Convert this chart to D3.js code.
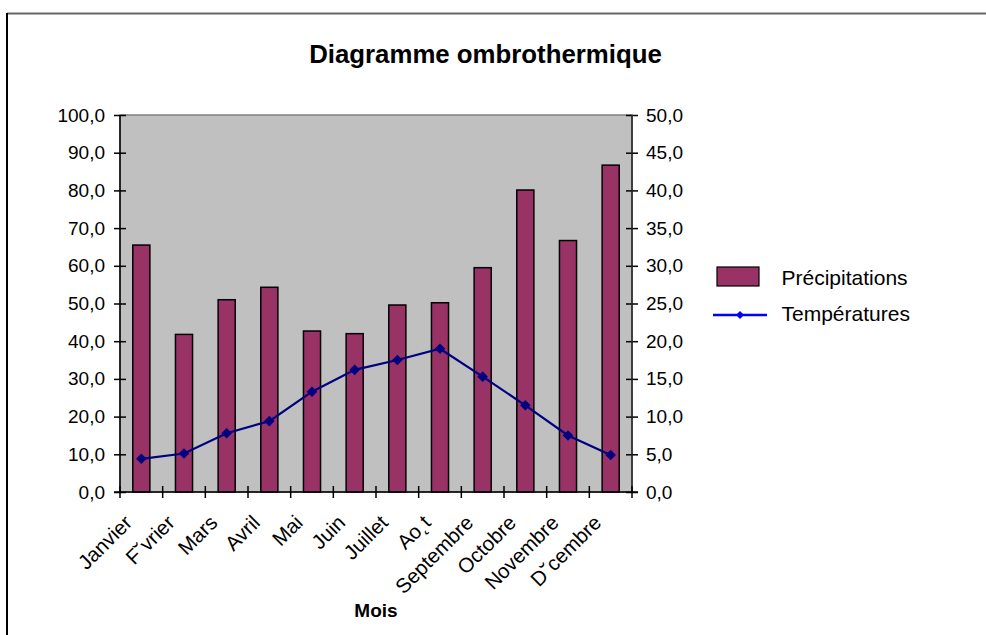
<!DOCTYPE html>
<html>
<head>
<meta charset="utf-8">
<script src="https://cdn.jsdelivr.net/npm/d3@7"></script>
<style>
  body { margin: 0; background: #fff; }
  text { font-family: Arial, "Liberation Sans", sans-serif; fill: #000; }
</style>
</head>
<body>
<svg id="chart" width="986" height="635"></svg>
<script>
// data
const months = ["Janvier", "F\u02d8vrier", "Mars", "Avril", "Mai", "Juin", "Juillet", "Ao\u02db\u0074", "Septembre", "Octobre", "Novembre", "D\u02d8cembre"];
const precipitations = [65.5, 41.8, 51.0, 54.3, 42.7, 42.0, 49.6, 50.2, 59.5, 80.1, 66.7, 86.7];
const temperatures = [4.4, 5.1, 7.8, 9.4, 13.3, 16.2, 17.5, 19.0, 15.3, 11.5, 7.5, 4.9];
const leftTicks = d3.range(0, 101, 10);
const rightTicks = d3.range(0, 51, 5);

const svg = d3.select("#chart");
const plot = { left: 120, right: 632, top: 115, bottom: 492 };
const fmt = v => v.toFixed(1).replace(".", ",");

// outer frame (only top + left visible)
svg.append("line").attr("x1", 7).attr("x2", 986).attr("y1", 13.5).attr("y2", 13.5)
  .attr("stroke", "#666").attr("stroke-width", 2);
svg.append("line").attr("x1", 7).attr("x2", 7).attr("y1", 13).attr("y2", 635)
  .attr("stroke", "#000").attr("stroke-width", 2);

// title
svg.append("text").attr("x", 485.5).attr("y", 62.5).attr("text-anchor", "middle")
  .attr("font-size", 25.8).attr("font-weight", "bold").text("Diagramme ombrothermique");

// scales
const x = d3.scaleBand().domain(months).range([plot.left, plot.right])
  .paddingInner(0.6).paddingOuter(0.3);
const yL = d3.scaleLinear().domain([0, 100]).range([plot.bottom, plot.top]);
const yR = d3.scaleLinear().domain([0, 50]).range([plot.bottom, plot.top]);

// plot area
svg.append("rect").attr("x", plot.left).attr("y", plot.top)
  .attr("width", plot.right - plot.left).attr("height", plot.bottom - plot.top)
  .attr("fill", "#c0c0c0").attr("stroke", "#808080").attr("stroke-width", 1.5);

// bars
svg.append("g").selectAll("rect")
  .data(months)
  .enter().append("rect")
    .attr("x", d => x(d))
    .attr("y", (d, i) => yL(precipitations[i]))
    .attr("width", x.bandwidth())
    .attr("height", (d, i) => yL(0) - yL(precipitations[i]))
    .attr("fill", "#993366")
    .attr("stroke", "#000")
    .attr("stroke-width", 1.5);

// temperature line
const cx = d => x(d) + x.bandwidth() / 2;
const line = d3.line().x(d => cx(d.m)).y(d => yR(d.t));
const tData = months.map((m, i) => ({ m, t: temperatures[i] }));
svg.append("path").datum(tData).attr("d", line)
  .attr("fill", "none").attr("stroke", "#000080").attr("stroke-width", 2.2);
const diamond = d3.symbol(d3.symbolSquare, 56);
svg.append("g").selectAll("path")
  .data(tData)
  .enter().append("path")
    .attr("d", diamond)
    .attr("transform", d => `translate(${cx(d.m)},${yR(d.t)}) rotate(45)`)
    .attr("fill", "#000080");

// left axis
const axL = svg.append("g").attr("transform", `translate(${plot.left},0)`)
  .call(d3.axisLeft(yL).tickValues(leftTicks).tickFormat(fmt).tickSize(6).tickPadding(9));
// right axis
const axR = svg.append("g").attr("transform", `translate(${plot.right},0)`)
  .call(d3.axisRight(yR).tickValues(rightTicks).tickFormat(fmt).tickSize(6).tickPadding(8));
[axL, axR].forEach(g => {
  g.select(".domain").remove();
  g.selectAll(".tick text").attr("font-size", 19).attr("font-family", "Arial, 'Liberation Sans', sans-serif").attr("fill", "#000");
});
// crossing ticks
axL.selectAll(".tick line").attr("x1", 6).attr("x2", -6).attr("stroke", "#000").attr("stroke-width", 1.5);
axR.selectAll(".tick line").attr("x1", -6).attr("x2", 6).attr("stroke", "#000").attr("stroke-width", 1.5);
svg.append("line").attr("x1", plot.left).attr("x2", plot.left).attr("y1", plot.top).attr("y2", plot.bottom)
  .attr("stroke", "#000").attr("stroke-width", 1.5);
svg.append("line").attr("x1", plot.right).attr("x2", plot.right).attr("y1", plot.top).attr("y2", plot.bottom)
  .attr("stroke", "#222").attr("stroke-width", 1.5);

// category axis
svg.append("line").attr("x1", plot.left - 6).attr("x2", plot.right + 6).attr("y1", plot.bottom).attr("y2", plot.bottom)
  .attr("stroke", "#000").attr("stroke-width", 1.5);
const edges = months.map(m => x(m) - (x.step() - x.bandwidth()) / 2).concat([plot.right]);
svg.append("g").selectAll("line")
  .data(edges)
  .enter().append("line")
    .attr("x1", d => d).attr("x2", d => d)
    .attr("y1", plot.bottom - 6).attr("y2", plot.bottom + 6)
    .attr("stroke", "#000").attr("stroke-width", 1.5);
svg.append("g").selectAll("text")
  .data(months)
  .enter().append("text")
    .attr("transform", d => `translate(${cx(d) - 8},${plot.bottom + 32}) rotate(-45)`)
    .attr("text-anchor", "end")
    .attr("font-size", 20.5)
    .text(d => d);

svg.append("text").attr("x", 376).attr("y", 616.5).attr("text-anchor", "middle")
  .attr("font-size", 19).attr("font-weight", "bold").text("Mois");

// legend
const lg = svg.append("g");
lg.append("rect").attr("x", 717).attr("y", 267).attr("width", 42).attr("height", 19)
  .attr("fill", "#993366").attr("stroke", "#000").attr("stroke-width", 1.2);
lg.append("text").attr("x", 781.5).attr("y", 285).attr("font-size", 21).text("Précipitations");
lg.append("line").attr("x1", 713).attr("x2", 767).attr("y1", 315).attr("y2", 315)
  .attr("stroke", "#0000ff").attr("stroke-width", 2.5);
lg.append("path").attr("d", d3.symbol(d3.symbolSquare, 32))
  .attr("transform", "translate(740,315) rotate(45)").attr("fill", "#0000ff");
lg.append("text").attr("x", 781.5).attr("y", 321).attr("font-size", 21).text("Températures");
</script>
</body>
</html>
